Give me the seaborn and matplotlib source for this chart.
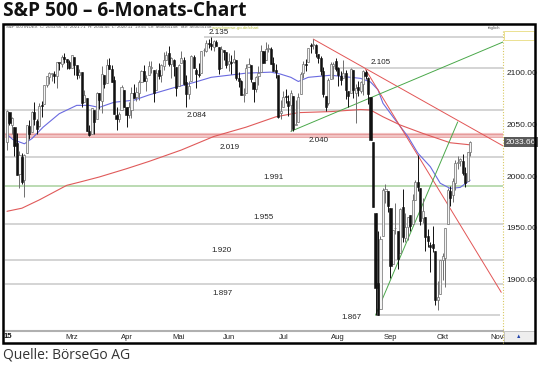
import numpy as np
import pandas as pd
import matplotlib
matplotlib.use("Agg")
import matplotlib.pyplot as plt
from matplotlib.patches import Rectangle
from matplotlib.lines import Line2D
import seaborn as sns

# ---------------- data (S&P 500 daily, 22 Jan 2015 .. 16 Oct 2015) ----------------
opens = [
    2034.0, 2062.9, 2050.4, 2047.9, 2032.3, 2002.5, 2019.4,
    1996.7, 2022.7, 2048.9, 2043.5, 2062.3, 2053.5, 2049.4, 2068.6, 2070.0, 2088.8, 2096.5, 2099.2, 2099.3, 2097.6, 2109.8, 2109.1, 2115.3, 2113.9, 2110.9,
    2105.2, 2115.8, 2107.7, 2098.5, 2100.9, 2072.3, 2076.1, 2044.7, 2041.1, 2064.6, 2055.4, 2080.6, 2072.8, 2098.7, 2090.3, 2108.0, 2103.9, 2093.1, 2059.9, 2055.8, 2064.1, 2084.1,
    2067.6, 2060.0, 2064.9, 2080.8, 2076.9, 2081.3, 2091.5, 2102.0, 2092.3, 2097.8, 2105.0, 2102.6, 2084.1, 2102.8, 2098.3, 2107.2, 2112.8, 2119.3, 2108.4, 2112.5, 2105.5,
    2087.4, 2110.2, 2112.6, 2091.3, 2080.0, 2092.1, 2115.6, 2102.9, 2099.6, 2100.4, 2122.1, 2121.3, 2129.5, 2127.8, 2125.6, 2130.4, 2125.3, 2105.1, 2122.3, 2120.7,
    2108.6, 2110.4, 2110.6, 2112.4, 2095.1, 2092.3, 2079.1, 2081.1, 2106.2, 2107.4, 2091.3, 2084.3, 2097.4, 2101.6, 2121.1, 2112.5, 2123.0, 2123.7, 2110.0, 2102.6, 2098.6, 2061.2,
    2067.0, 2078.0, 2073.0, 2069.5, 2077.7, 2049.7, 2052.7, 2080.0, 2099.7, 2109.0, 2110.6, 2126.8, 2126.9, 2127.5, 2118.2, 2114.2, 2102.2, 2078.2, 2070.8, 2094.7, 2106.8, 2111.6,
    2104.5, 2097.7, 2095.3, 2100.0, 2082.6, 2081.0, 2102.7, 2081.1, 2086.2, 2083.2, 2089.7, 2101.5, 2095.7, 2076.6, 2034.1, 1965.2, 1898.1, 1872.8, 1942.8, 1986.1, 1986.7,
    1970.1, 1916.5, 1950.8, 1947.8, 1927.3, 1971.5, 1941.6, 1951.5, 1963.1, 1955.1, 1978.0, 1995.3, 1989.7, 1960.8, 1961.4, 1943.2, 1934.8, 1935.9, 1929.2, 1881.9, 1887.1,
    1919.7, 1921.8, 1954.3, 1986.6, 1982.3, 1994.0, 2013.7, 2015.7, 2015.0, 2003.7, 1996.5, 2024.4,
]
highs = [
    2064.6, 2062.9, 2057.6, 2047.9, 2042.5, 2024.6, 2023.3,
    2021.7, 2050.3, 2054.7, 2063.6, 2072.4, 2056.2, 2070.9, 2073.5, 2088.5, 2097.0, 2101.3, 2100.2, 2102.1, 2110.6, 2110.1, 2117.9, 2119.6, 2113.9, 2112.7,
    2117.5, 2115.8, 2107.7, 2104.3, 2100.9, 2083.5, 2076.1, 2050.1, 2066.4, 2064.6, 2081.4, 2080.6, 2106.9, 2098.7, 2113.9, 2114.9, 2107.6, 2097.4, 2067.2, 2062.8, 2089.0, 2084.1,
    2067.6, 2072.2, 2087.0, 2089.8, 2086.7, 2093.3, 2102.6, 2107.7, 2098.6, 2111.9, 2111.3, 2102.6, 2104.0, 2109.6, 2109.0, 2120.5, 2120.9, 2125.9, 2116.0, 2113.7, 2105.5,
    2108.4, 2121.0, 2115.2, 2098.4, 2092.9, 2117.7, 2117.7, 2105.1, 2110.2, 2121.5, 2123.9, 2131.8, 2133.0, 2134.7, 2131.8, 2132.2, 2125.3, 2126.2, 2122.3, 2120.7,
    2119.2, 2117.6, 2121.9, 2112.9, 2101.0, 2093.0, 2085.6, 2108.5, 2115.0, 2107.4, 2091.3, 2097.4, 2106.8, 2126.7, 2121.6, 2129.9, 2128.0, 2125.1, 2116.0, 2108.9, 2098.6, 2074.3,
    2082.8, 2085.1, 2078.6, 2083.7, 2077.7, 2074.3, 2081.3, 2100.7, 2112.0, 2114.1, 2124.4, 2128.9, 2132.8, 2128.5, 2118.5, 2116.9, 2106.0, 2078.2, 2095.6, 2110.6, 2110.5, 2114.2,
    2105.7, 2102.5, 2112.7, 2103.3, 2082.6, 2105.4, 2102.7, 2089.1, 2092.9, 2092.5, 2102.9, 2103.5, 2096.2, 2076.6, 2034.1, 1965.2, 1948.0, 1943.1, 1989.6, 1993.5, 1986.7,
    1970.1, 1948.9, 1975.0, 1947.8, 1970.4, 1988.6, 1965.3, 1961.1, 1963.1, 1983.2, 1997.3, 2020.9, 1989.7, 1979.6, 1961.4, 1949.5, 1937.2, 1952.9, 1929.2, 1899.5, 1920.5,
    1927.2, 1951.4, 1989.2, 1991.6, 1999.3, 2016.5, 2020.1, 2018.7, 2022.3, 2009.6, 2024.2, 2034.5,
]
lows = [
    2026.4, 2050.5, 2041.0, 2019.9, 2001.5, 1989.2, 1993.4,
    1980.9, 2022.7, 2036.7, 2043.5, 2050.0, 2041.9, 2048.6, 2058.0, 2070.0, 2086.7, 2089.8, 2092.2, 2090.8, 2085.4, 2103.0, 2105.9, 2109.9, 2103.8, 2103.8,
    2104.5, 2098.3, 2094.5, 2095.2, 2067.3, 2072.2, 2044.2, 2039.7, 2041.1, 2041.2, 2055.4, 2065.1, 2061.2, 2085.6, 2090.3, 2104.4, 2091.5, 2061.1, 2045.5, 2053.0, 2064.1, 2067.0,
    2048.4, 2057.3, 2056.5, 2076.1, 2073.3, 2074.3, 2091.5, 2092.3, 2083.2, 2097.8, 2100.0, 2072.4, 2084.1, 2094.4, 2091.1, 2103.2, 2112.8, 2107.0, 2094.9, 2097.4, 2077.6,
    2087.4, 2110.2, 2088.5, 2067.9, 2075.0, 2092.1, 2104.6, 2085.6, 2096.0, 2100.4, 2116.8, 2120.0, 2124.5, 2122.6, 2120.9, 2126.1, 2099.2, 2105.1, 2112.9, 2104.9,
    2102.5, 2099.1, 2109.6, 2093.2, 2087.0, 2079.1, 2072.1, 2081.1, 2106.2, 2091.3, 2072.5, 2082.1, 2088.9, 2101.6, 2109.5, 2112.5, 2119.9, 2108.6, 2102.0, 2095.4, 2056.6, 2056.3,
    2067.0, 2071.0, 2058.4, 2044.0, 2044.5, 2049.7, 2052.7, 2080.0, 2095.0, 2102.5, 2110.6, 2119.4, 2123.7, 2115.4, 2110.0, 2098.6, 2077.1, 2063.5, 2069.1, 2094.1, 2094.1, 2102.1,
    2087.3, 2088.6, 2095.3, 2075.5, 2067.9, 2081.0, 2076.5, 2052.1, 2078.3, 2080.6, 2079.3, 2094.1, 2070.5, 2035.7, 1970.9, 1867.0, 1867.1, 1872.8, 1942.8, 1975.2, 1966.0,
    1903.1, 1916.5, 1944.7, 1911.2, 1927.3, 1937.9, 1937.2, 1939.2, 1948.3, 1954.3, 1977.9, 1986.7, 1953.5, 1955.8, 1929.2, 1932.6, 1908.9, 1928.0, 1876.9, 1871.9, 1887.1,
    1900.7, 1893.7, 1954.3, 1972.0, 1976.4, 1987.5, 2007.6, 2010.3, 2001.8, 1990.7, 1996.5, 2020.5,
]
closes = [
    2063.2, 2051.8, 2057.1, 2029.6, 2002.2, 2021.3, 1995.0,
    2020.9, 2050.0, 2041.5, 2062.5, 2055.5, 2046.7, 2068.6, 2068.5, 2088.5, 2097.0, 2100.3, 2099.7, 2097.5, 2110.3, 2109.7, 2115.5, 2113.9, 2110.7, 2104.5,
    2117.4, 2107.8, 2098.5, 2101.0, 2071.3, 2079.4, 2044.2, 2040.2, 2066.0, 2053.4, 2081.2, 2074.3, 2099.5, 2089.3, 2108.1, 2104.4, 2091.5, 2061.1, 2056.2, 2061.0, 2086.2, 2067.9,
    2059.7, 2067.0, 2080.6, 2076.3, 2081.9, 2091.2, 2102.1, 2092.4, 2095.8, 2106.6, 2105.0, 2081.2, 2100.4, 2097.3, 2108.0, 2112.9, 2117.7, 2108.9, 2114.8, 2106.9, 2085.5,
    2108.3, 2114.5, 2089.5, 2080.2, 2088.0, 2116.1, 2105.3, 2099.1, 2098.5, 2121.1, 2122.7, 2129.2, 2127.8, 2125.9, 2130.8, 2126.1, 2104.2, 2123.5, 2120.8, 2107.4,
    2111.7, 2109.6, 2114.1, 2095.8, 2092.8, 2079.3, 2080.2, 2105.2, 2108.9, 2094.1, 2084.4, 2096.3, 2100.4, 2121.2, 2110.0, 2122.9, 2124.2, 2108.6, 2102.3, 2101.5, 2057.6, 2063.1,
    2077.4, 2076.8, 2068.8, 2081.3, 2046.7, 2051.3, 2076.6, 2099.6, 2109.0, 2107.4, 2124.3, 2126.6, 2128.3, 2119.2, 2114.2, 2102.2, 2079.7, 2067.6, 2093.3, 2108.6, 2108.6, 2103.8,
    2098.0, 2093.3, 2099.8, 2083.6, 2077.6, 2104.2, 2084.1, 2086.1, 2083.4, 2091.5, 2102.4, 2096.9, 2079.6, 2035.7, 1970.9, 1893.2, 1867.6, 1940.5, 1987.7, 1988.9, 1972.2,
    1913.9, 1948.9, 1951.1, 1921.2, 1969.4, 1942.0, 1952.3, 1961.1, 1953.0, 1978.1, 1995.3, 1990.2, 1958.0, 1967.0, 1942.7, 1938.8, 1932.2, 1931.3, 1881.8, 1884.1, 1920.0,
    1923.8, 1951.4, 1987.1, 1979.9, 1995.8, 2013.4, 2014.9, 2017.5, 2003.7, 1994.2, 2023.9, 2033.7,
]

# moving averages (day index, value)
ma_blue_idx = [0, 2.4, 7, 10, 14.5, 21, 28, 33, 37, 43, 51, 57, 67, 75, 82, 96, 106, 110, 114, 117, 121, 130, 142, 146, 149, 151, 155, 161, 165, 170, 174, 178, 182, 186]
ma_blue_val = [2041, 2036, 2032, 2037, 2048, 2061, 2069, 2069, 2067, 2072, 2074, 2079, 2086, 2091, 2096, 2100, 2101, 2099, 2096, 2092, 2096, 2098, 2095, 2091.5, 2084, 2071, 2058, 2039, 2023, 2010, 1994, 1989, 1990, 1997]
ma_red_idx = [0, 6, 13, 24, 29, 37, 48, 57, 70, 83, 96, 108, 117, 130, 142, 146, 151, 158, 167, 178, 186]
ma_red_val = [1967, 1970, 1978, 1992, 1995, 2000, 2008, 2015, 2026, 2039, 2048, 2058, 2062, 2063, 2065, 2064.5, 2058, 2050, 2042, 2033, 2031]

# horizontal levels: line value, start index, label, label position
level_vals = [2135, 2105, 2065, 2019, 1955, 1920, 1897]
level_start = [79, 130, -1, -1, -1, -1, -1]
level_labels = ["2.135", "2.105", "2.084", "2.019", "1.955", "1.920", "1.897"]
label_idx = [85.1, 150.2, 76.3, 89.6, 103.2, 86.3, 86.7]
label_val = [2138.7, 2109.8, 2058.8, 2028.0, 1961.5, 1928.8, 1888.3]

month_labels = ["Mrz", "Apr", "Mai", "Jun", "Jul", "Aug", "Sep", "Okt", "Nov"]
month_pos = [26, 48, 69, 89, 111, 133, 154, 175, 197]

axis_vals = [2100, 2050, 2000, 1950, 1900]
last_price = "2033.66"

# ---------------- figure ----------------
sns.set_style("white")
plt.rcParams['font.family'] = ['Liberation Sans', 'DejaVu Sans']

W, H = 540, 366
fig = plt.figure(figsize=(W / 100, H / 100), dpi=100)

def fx(px):
    return px / W

def fy(py):
    return 1 - py / H

ax = fig.add_axes([fx(5), fy(331), fx(503) - fx(5), fy(31) - fy(331)])
XL = (-0.8, 199.2)
YL = (1851.75, 2140.6)
ax.set_xlim(*XL)
ax.set_ylim(*YL)
for s in ["top", "left", "right"]:
    ax.spines[s].set_visible(False)
ax.spines["bottom"].set_color("#b0b0b0")
ax.spines["bottom"].set_linewidth(1.5)
ax.set_yticks([])
ax.set_xticks(month_pos)
ax.set_xticklabels(month_labels, fontsize=5.5, color="#222")
ax.tick_params(axis="x", length=0, pad=2.5)

# level lines
for v, st in zip(level_vals, level_start):
    ax.hlines(v, st, XL[1], color="#c9c9c9", lw=1.1, zorder=1)
ax.hlines(1867, 148, 198, color="#c9c9c9", lw=1.1, zorder=1)
ax.axhline(2040, color="#f2c4c4", lw=3.0, zorder=1)
ax.axhline(2041.2, color="#e08a8a", lw=0.5, zorder=1)
ax.axhline(2038.8, color="#e08a8a", lw=0.5, zorder=1)
ax.axhline(1991, color="#b5d8ad", lw=1.3, zorder=1)

for lab, xi, yv in zip(level_labels, label_idx, label_val):
    ax.text(xi, yv, lab, fontsize=5.8, color="#222", ha="center", va="center", zorder=6)
ax.text(125.3, 2034.7, "2.040", fontsize=5.8, color="#222", ha="center", va="center", zorder=6)
ax.text(107.2, 1999.1, "1.991", fontsize=5.8, color="#222", ha="center", va="center", zorder=6)
ax.text(138.2, 1864.3, "1.867", fontsize=5.8, color="#222", ha="center", va="center", zorder=6)

# moving averages
df_blue = pd.DataFrame({"i": ma_blue_idx, "v": ma_blue_val})
df_red = pd.DataFrame({"i": ma_red_idx, "v": ma_red_val})
sns.lineplot(data=df_blue, x="i", y="v", ax=ax, color="#6a6ae0", lw=0.8, zorder=3, sort=False)
sns.lineplot(data=df_red, x="i", y="v", ax=ax, color="#e05a5a", lw=0.8, zorder=3, sort=False)
ax.set_xlabel("")
ax.set_ylabel("")

# trend lines
ax.plot([123, 199.2], [2132.8, 2030.0], color="#e25555", lw=0.7, zorder=4)
ax.plot([144, 198.5], [2103.5, 1889.0], color="#e25555", lw=0.7, zorder=4)
ax.plot([114, 199.2], [2044.0, 2130.0], color="#4aa84a", lw=0.7, zorder=4)
ax.plot([148, 181], [1867.0, 2053.0], color="#4aa84a", lw=0.7, zorder=4)

# candles
idx = np.arange(len(closes))
o = np.array(opens); h = np.array(highs); l = np.array(lows); c = np.array(closes)
up = c >= o
ax.vlines(idx[up], l[up], h[up], color="#6f6f6f", lw=0.7, zorder=5)
ax.vlines(idx[~up], l[~up], h[~up], color="#111111", lw=0.7, zorder=5)
body_lo = np.minimum(o, c)
body_h = np.maximum(np.abs(c - o), 0.6)
ax.bar(idx[up], body_h[up], bottom=body_lo[up], width=0.85, color="#f4f4f4",
       edgecolor="#6f6f6f", linewidth=0.5, zorder=5.5)
ax.bar(idx[~up], body_h[~up], bottom=body_lo[~up], width=0.85, color="#111111",
       edgecolor="#111111", linewidth=0.4, zorder=5.5)

# right axis labels
for v in axis_vals:
    ax.text(200.6, v, f"{v:.2f}", fontsize=6.0, color="#222", ha="left", va="center", clip_on=False)
ax.text(200.4, 2033.66, last_price, fontsize=6.0, color="white", ha="left", va="center", clip_on=False,
        bbox=dict(facecolor="#5a5a5a", edgecolor="none", pad=1.2))

# right axis separator (yellow dotted)
fig.add_artist(Line2D([fx(503), fx(503)], [fy(31), fy(343)], color="#d8c860", lw=0.8,
                      ls=(0, (1, 1.5)), transform=fig.transFigure))
# small boxes on right
fig.add_artist(Rectangle((fx(504), fy(40)), fx(30), fy(31) - fy(40), fill=False, ec="#e8dc80", lw=0.6,
                         transform=fig.transFigure))
fig.add_artist(Rectangle((fx(504), fy(343)), fx(31), fy(331) - fy(343), facecolor="#eeeeee", ec="#bbbbbb", lw=0.6,
                         transform=fig.transFigure))
fig.text(fx(519), fy(337), "▲", fontsize=4, color="#2244aa", ha="center", va="center")

# year label bottom-left
fig.text(fx(4), fy(337), "15", fontsize=5.5, color="#111", ha="left", va="center", weight="bold")

# header strip
fig.text(fx(6), fy(27.5), "S&P 500 INDEX  C: 2033.66  O: 2021.71  H: 2034.45  L: 2020.11  +9.55  LV: 460055158  TaV: 460055158",
         fontsize=3.2, color="#555", ha="left", va="center")
fig.text(fx(212), fy(27.5), "www.boerse-go.de/chart", fontsize=3.2, color="#b8c040", ha="left", va="center")
fig.text(fx(488), fy(27.5), "täglich", fontsize=3.2, color="#555", ha="left", va="center")

# outer frame
fig.add_artist(Rectangle((fx(3), fy(343)), fx(535) - fx(3), fy(24) - fy(343), fill=False, ec="black", lw=1.8,
                         transform=fig.transFigure))

# title and source
fig.text(fx(3), fy(11), "S&P 500 – 6-Monats-Chart", fontsize=13.8, weight="bold", color="#111",
         ha="left", va="center", family=["Open Sans", "DejaVu Sans"])
fig.text(fx(3), fy(355), "Quelle: BörseGo AG", fontsize=10, color="#333",
         ha="left", va="center", family=["Open Sans", "DejaVu Sans"])

fig.savefig("out.png", dpi=100)
